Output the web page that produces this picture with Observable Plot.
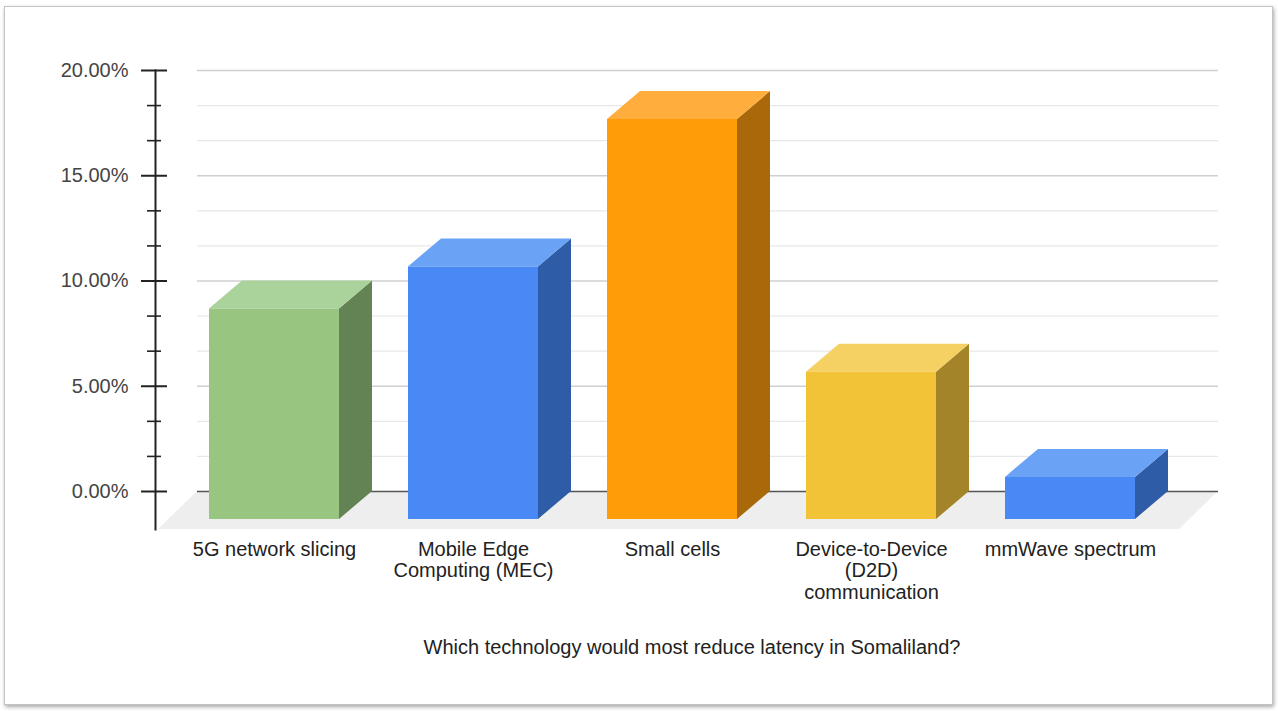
<!DOCTYPE html>
<html>
<head>
<meta charset="utf-8">
<script src="https://cdn.jsdelivr.net/npm/d3@7"></script>
<script src="https://cdn.jsdelivr.net/npm/@observablehq/plot@0.6"></script>
<style>
  html, body { margin: 0; padding: 0; background: #fff; }
  #chart { position: relative; width: 1278px; height: 711px; overflow: hidden; font-family: "Liberation Sans", Arial, sans-serif; }
  #chart svg { position: absolute; left: 0; top: 0; }
  .card { position: absolute; left: 4px; top: 6px; width: 1267px; height: 697px; background: #fff;
          border: 1px solid #c4c4c4; box-shadow: 1px 2px 4px rgba(0,0,0,0.35); }
</style>
</head>
<body>
<div id="chart"><div class="card"></div></div>
<script>
// Survey answers: share of respondents per technology (percent)
const categories = [
  "5G network slicing",
  "Mobile Edge Computing (MEC)",
  "Small cells",
  "Device-to-Device (D2D) communication",
  "mmWave spectrum"
];
const tickLabels = [
  "5G network slicing",
  "Mobile Edge\nComputing (MEC)",
  "Small cells",
  "Device-to-Device\n(D2D)\ncommunication",
  "mmWave spectrum"
];
const shares = [10, 12, 19, 7, 2];

// Face shades of each prism: front, lit top, shaded side
const frontColors = ["#98c580", "#4889f5", "#ff9c07", "#f2c337", "#4889f5"];
const topColors   = ["#aad39b", "#6aa2f6", "#ffae3d", "#f5d062", "#6aa2f6"];
const sideColors  = ["#648354", "#2f5ca6", "#a9690a", "#a38429", "#2f5ca6"];

const yTicks = [0, 5, 10, 15, 20];
const yMinor = d3.range(1, 12).filter(k => k % 3 !== 0).map(k => k * 5 / 3);

const xTitle = "Which technology would most reduce latency in Somaliland?";

const data = categories.map((c, i) => ({category: c, share: shares[i]}));

// Oblique projection of the bar depth and of the floor depth (pixels)
const depth = {dx: 33, dy: 28};
const floorDepth = {dx: 39, dy: 38};

// Draws one face of every prism from the bar channels computed by Plot
function prismFace(face, colors) {
  return (index, scales, values) => {
    const bw = scales.x.bandwidth();
    const X = values.x, Y1 = values.y1, Y2 = values.y2;
    const g = d3.create("svg:g");
    g.selectAll("path").data(index).join("path")
      .attr("fill", i => colors[i])
      .attr("d", i => {
        const l = X[i], r = X[i] + bw;
        const top = Math.min(Y1[i], Y2[i]) + depth.dy;
        const bot = Math.max(Y1[i], Y2[i]) + depth.dy;
        let pts;
        if (face === "top") {
          pts = [[l, top], [r, top], [r + depth.dx, top - depth.dy], [l + depth.dx, top - depth.dy]];
        } else if (face === "side") {
          pts = [[r, top], [r + depth.dx, top - depth.dy], [r + depth.dx, bot - depth.dy], [r, bot]];
        } else {
          pts = [[l, top], [r, top], [r, bot], [l, bot]];
        }
        return "M" + pts.map(p => p.join(",")).join("L") + "Z";
      });
    return g.node();
  };
}

// Grey floor plane under the bars
function floorPlane(index, scales, values, dims) {
  const y0 = scales.y(0);
  const l = dims.marginLeft - 15, r = dims.width - dims.marginRight + 9;
  const yf = y0 + floorDepth.dy;
  const pts = [[l, yf], [r, yf], [r + floorDepth.dx, y0], [l + floorDepth.dx, y0]];
  return d3.create("svg:path")
    .attr("fill", "#eeeeee")
    .attr("d", "M" + pts.map(p => p.join(",")).join("L") + "Z")
    .node();
}

const chart = Plot.plot({
  width: 1278,
  height: 711,
  marginTop: 70,
  marginBottom: 220,
  marginLeft: 173,
  marginRight: 108,
  style: {background: "transparent", fontFamily: "Liberation Sans, Arial, sans-serif", fontSize: "20px"},
  x: {domain: categories, paddingInner: 0.348, paddingOuter: 0.174},
  y: {domain: [0, 20]},
  marks: [
    // back-wall gridlines
    Plot.ruleY(yMinor, {stroke: "#e8e8e8", strokeWidth: 1.2, insetLeft: 24, insetRight: -48}),
    Plot.ruleY(yTicks.filter(v => v > 0), {stroke: "#d0d0d0", strokeWidth: 1.4, insetLeft: 24, insetRight: -48}),
    Plot.ruleY([0], {render: floorPlane}),
    Plot.ruleY([0], {stroke: "#555", strokeWidth: 1.6, insetLeft: 24, insetRight: -48}),
    // prisms
    Plot.barY(data, {x: "category", y: "share", render: prismFace("side", sideColors)}),
    Plot.barY(data, {x: "category", y: "share", render: prismFace("top", topColors)}),
    Plot.barY(data, {x: "category", y: "share", render: prismFace("front", frontColors)}),
    // value axis
    Plot.frame({anchor: "left", dx: -18, insetBottom: -38, stroke: "#222", strokeWidth: 2}),
    Plot.axisY(yTicks, {anchor: "left", label: null, tickSize: 26, dx: -6, tickPadding: 13,
      tickFormat: d => d.toFixed(2) + "%", fontSize: 20, fill: "#444", stroke: "#222", strokeWidth: 2}),
    Plot.axisY(yMinor, {anchor: "left", label: null, tickSize: 14, dx: -12,
      tickFormat: () => "", stroke: "#222", strokeWidth: 1.6}),
    // category axis
    Plot.axisX({anchor: "bottom", label: null, tickSize: 0, tickPadding: 49, fontSize: 20,
      fill: "#222", lineHeight: 1.08, tickFormat: d => tickLabels[categories.indexOf(d)]}),
    Plot.text([xTitle], {frameAnchor: "bottom", dx: 20, dy: 162, fontSize: 20, fill: "#222"})
  ]
});

document.getElementById("chart").appendChild(chart);
</script>
</body>
</html>
